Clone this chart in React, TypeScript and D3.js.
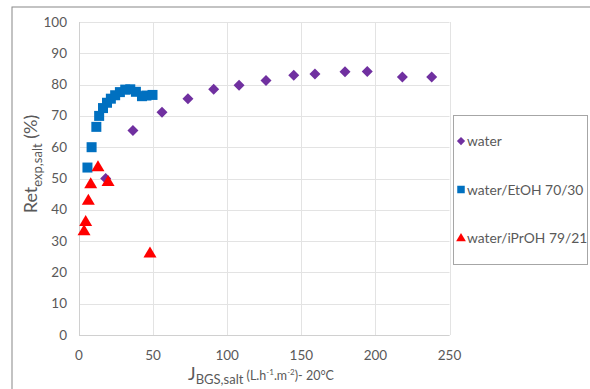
import React from "react";
import * as d3 from "d3";

const waterX = [18, 36.4, 56, 73.5, 90.9, 108, 126.2, 144.9, 159.2, 179.5, 194.5, 218.2, 238];
const waterY = [50, 65.3, 71.2, 75.5, 78.5, 79.8, 81.3, 83, 83.4, 84.1, 84.2, 82.4, 82.4];

const etohX = [5.7, 8.5, 11.7, 13.6, 16.2, 18.9, 21.5, 24.4, 27.6, 31.2, 34.6, 38.4, 42.5, 45.5, 49.6];
const etohY = [53.5, 60, 66.5, 70, 72.5, 74.2, 75.5, 76.6, 77.6, 78.4, 78.5, 77.7, 76.3, 76.5, 76.7];

const iproX = [12.8, 7.9, 19.6, 6.3, 4.5, 3.4, 47.9];
const iproY = [53.7, 48.3, 49, 43, 36.2, 33.3, 26.2];

const xTicks = [0, 50, 100, 150, 200, 250];
const yTicks = [0, 10, 20, 30, 40, 50, 60, 70, 80, 90, 100];

const seriesNames = ["water", "water/EtOH 70/30", "water/iPrOH 79/21"];
const colors = ["#7030A0", "#0070C0", "#FF0000"];

const FONT = "Lato, 'Open Sans', sans-serif";
const TXT = "#595959";

function Marker({ kind, x, y, color, s = 1 }: { kind: number; x: number; y: number; color: string; s?: number }) {
  if (kind === 0) {
    const r = 5.5 * s;
    return <path d={`M${x},${y - r}L${x + r},${y}L${x},${y + r}L${x - r},${y}Z`} fill={color} />;
  }
  if (kind === 1) {
    const h = 5 * s;
    return <rect x={x - h} y={y - h} width={2 * h} height={2 * h} fill={color} />;
  }
  const w = 6.5 * s;
  const ht = 11 * s;
  return <path d={`M${x},${y - ht * 0.6}L${x + w},${y + ht * 0.4}L${x - w},${y + ht * 0.4}Z`} fill={color} />;
}

export default function App() {
  const x = d3.scaleLinear().domain([0, 250]).range([79, 449.5]);
  const y = d3.scaleLinear().domain([0, 100]).range([335, 22]);

  const series = [
    { xs: waterX, ys: waterY },
    { xs: etohX, ys: etohY },
    { xs: iproX, ys: iproY },
  ];

  return (
    <svg width={590} height={389} style={{ position: "absolute", left: 0, top: 0 }} fontFamily={FONT}>
      <rect x={0} y={0} width={590} height={389} fill="#fff" />
      <rect x={12} y={7} width={600} height={400} fill="#fff" stroke="#888" strokeWidth={1} />
      {yTicks.map((t) => (
        <line key={"gy" + t} x1={x(0)} x2={x(250)} y1={Math.round(y(t)) + 0.5} y2={Math.round(y(t)) + 0.5} stroke="#e3e3e3" strokeWidth={1} />
      ))}
      {xTicks.map((t) => (
        <line key={"gx" + t} x1={Math.round(x(t)) + 0.5} x2={Math.round(x(t)) + 0.5} y1={y(0)} y2={y(100)} stroke="#e3e3e3" strokeWidth={1} />
      ))}
      <line x1={Math.round(x(0)) + 0.5} x2={Math.round(x(0)) + 0.5} y1={y(0)} y2={y(100)} stroke="#d0d0d0" />
      <line x1={x(0)} x2={x(250)} y1={Math.round(y(0)) + 0.5} y2={Math.round(y(0)) + 0.5} stroke="#d0d0d0" />
      {yTicks.map((t) => (
        <text key={"ty" + t} x={67} y={y(t) + 4.5} textAnchor="end" fontSize={13.5} fill={TXT}>{t}</text>
      ))}
      {xTicks.map((t) => (
        <text key={"tx" + t} x={x(t)} y={360} textAnchor="middle" fontSize={13.5} fill={TXT}>{t}</text>
      ))}
      {series.map((s, si) =>
        s.xs.map((v, i) => <Marker key={si + "-" + i} kind={si} x={x(v)} y={y(s.ys[i])} color={colors[si]} />)
      )}
      <text transform="translate(37,164) rotate(-90)" textAnchor="middle" fill={TXT}>
        <tspan fontSize={18}>Ret</tspan>
        <tspan fontSize={13} dy={5}>exp,salt</tspan>
        <tspan fontSize={18} dy={-5}> (%)</tspan>
      </text>
      <text x={261} y={380} textAnchor="middle" fill={TXT}>
        <tspan fontSize={18}>J</tspan>
        <tspan fontSize={13} dy={4}>BGS,salt</tspan>
        <tspan fontSize={12.5} dy={-4}> (L.h</tspan>
        <tspan fontSize={8} dy={-5}>-1</tspan>
        <tspan fontSize={12.5} dy={5}>.m</tspan>
        <tspan fontSize={8} dy={-5}>-2</tspan>
        <tspan fontSize={12.5} dy={5}>)- 20°C</tspan>
      </text>
      <rect x={453.5} y={115.5} width={134} height={149} fill="#fff" stroke="#a6a6a6" />
      {seriesNames.map((n, i) => (
        <g key={n}>
          <Marker kind={i} x={461} y={141 + i * 48.5} color={colors[i]} s={0.75} />
          <text x={467} y={146 + i * 48.5} fontSize={13.8} fill={TXT}>{n}</text>
        </g>
      ))}
    </svg>
  );
}
